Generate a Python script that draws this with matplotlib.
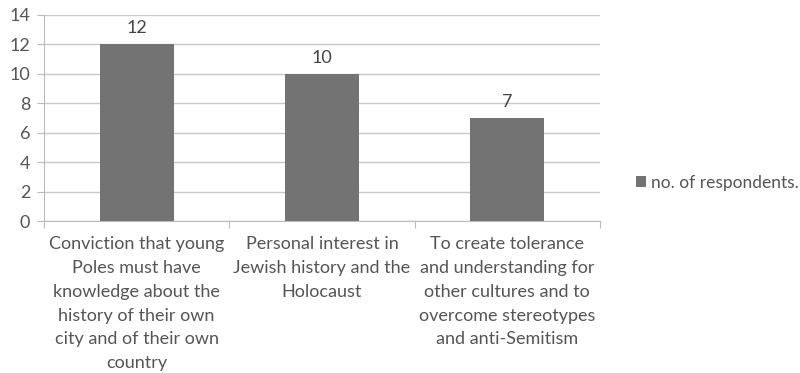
import matplotlib
matplotlib.use("Agg")
import matplotlib.pyplot as plt

categories = [
    "Conviction that young\nPoles must have\nknowledge about the\nhistory of their own\ncity and of their own\ncountry",
    "Personal interest in\nJewish history and the\nHolocaust",
    "To create tolerance\nand understanding for\nother cultures and to\novercome stereotypes\nand anti-Semitism",
]
values = [12, 10, 7]
series_name = "no. of respondents."
yticks = [0, 2, 4, 6, 8, 10, 12, 14]

plt.rcParams['font.family'] = ['Lato', 'DejaVu Sans']
txt = '#555555'

fig = plt.figure(figsize=(8, 3.73), dpi=100)
ax = fig.add_axes([0.055, 0.4075, 0.695, 0.5525])
x = list(range(len(categories)))
bars = ax.bar(x, values, width=0.4, color='#737373', label=series_name, zorder=3)
for xi, v in zip(x, values):
    ax.text(xi, v + 0.55, str(v), ha='center', va='bottom', fontsize=13, color='#444444')

ax.set_xlim(-0.5, len(categories) - 0.5)
ax.set_ylim(0, 14)
ax.set_yticks(yticks)
ax.yaxis.grid(True, color='#c8c8c8', linewidth=1, zorder=0)
ax.set_axisbelow(True)
ax.set_xticks([-0.5, 0.5, 1.5, 2.5], minor=False)
ax.set_xticklabels([])
ax.set_xticks(x, minor=True)
ax.set_xticklabels(categories, minor=True, fontsize=13, color=txt, linespacing=1.6)
ax.tick_params(axis='x', which='major', length=5, color='#bbbbbb')
ax.tick_params(axis='x', which='minor', length=0, pad=11)
ax.tick_params(axis='y', length=5, color='#bbbbbb', labelsize=13, labelcolor=txt, pad=5)
for s in ['top', 'right']:
    ax.spines[s].set_visible(False)
for s in ['left', 'bottom']:
    ax.spines[s].set_color('#bbbbbb')

fig.legend(handles=[bars], labels=[series_name], loc='center left', bbox_to_anchor=(0.795, 0.51),
           frameon=False, fontsize=12.5, labelcolor=txt, handlelength=0.55, handleheight=0.55,
           handletextpad=0.3, borderpad=0, borderaxespad=0)
fig.savefig('out.png', dpi=100)
